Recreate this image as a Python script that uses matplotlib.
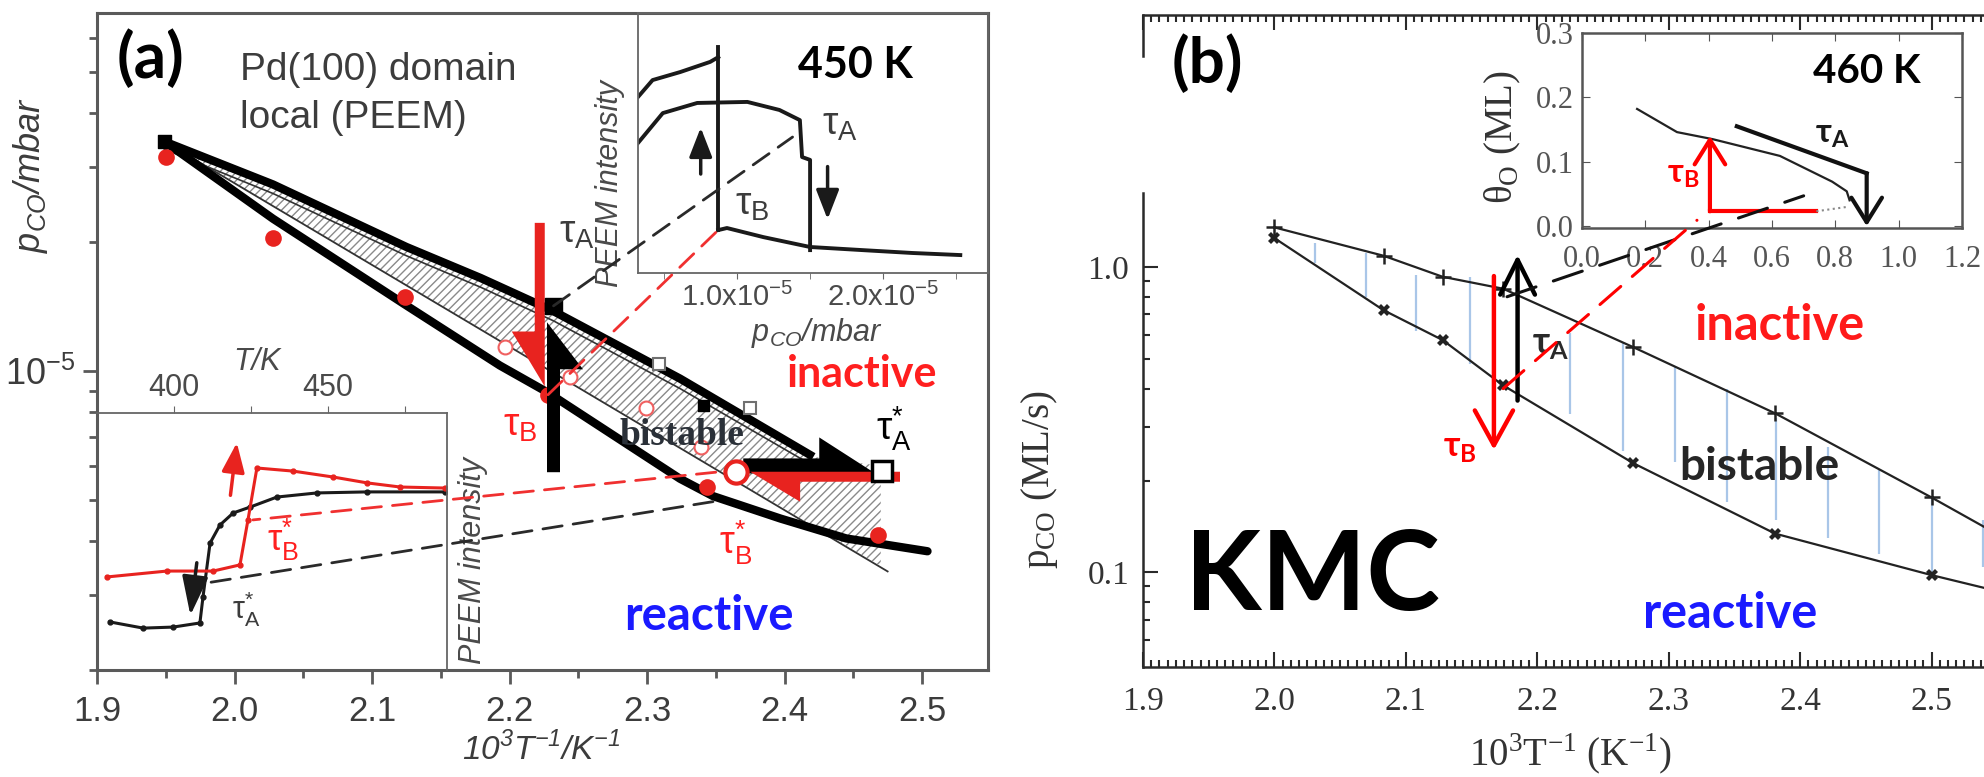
import numpy as np
import matplotlib
matplotlib.use("Agg")
import matplotlib.pyplot as plt
from matplotlib.patches import Polygon, ConnectionPatch
from matplotlib.transforms import IdentityTransform
from matplotlib.ticker import FixedLocator, MultipleLocator, NullFormatter, LogLocator

W, H, DPI = 1984, 777, 100

RED = '#e8231f'
TRED = '#ff1f1f'
BLUE = '#1a1aff'
GRAY = '#3c3c3c'
SANS = ['Liberation Sans', 'DejaVu Sans']
SERIF = ['Liberation Serif', 'DejaVu Serif']
BOLD = ['Lato', 'Open Sans', 'DejaVu Sans']

# ---------------- (a) experiment: PEEM on Pd(100) ----------------
a_upper_x = [1.949, 2.028, 2.125, 2.179, 2.232, 2.324, 2.421]
a_upper_y = [3.44e-5, 2.73e-5, 1.95e-5, 1.65e-5, 1.38e-5, 9.6e-6, 6.3e-6]
a_inner_y = [3.30e-5, 2.60e-5, 1.86e-5, 1.57e-5, 1.31e-5, 9.1e-6, 6.0e-6]
a_lower_x = [1.949, 2.028, 2.124, 2.193, 2.228, 2.324, 2.348, 2.397, 2.445, 2.504]
a_lower_y = [3.44e-5, 2.27e-5, 1.43e-5, 1.03e-5, 8.9e-6, 5.6e-6, 5.1e-6, 4.52e-6, 4.06e-6, 3.79e-6]
a_thin_x = [1.949, 2.475]
a_thin_y = [3.44e-5, 3.4e-6]
a_hatch_x = a_upper_x + [2.470, 2.470, 1.949]
a_hatch_y = a_upper_y + [6.0e-6, 3.5e-6, 3.44e-5]

a_tauB_x = [1.950, 2.028, 2.124, 2.228, 2.344, 2.468]
a_tauB_y = [3.17e-5, 2.05e-5, 1.49e-5, 8.8e-6, 5.36e-6, 4.13e-6]
a_ocirc_x = [2.197, 2.244, 2.299, 2.339]
a_ocirc_y = [1.14e-5, 9.7e-6, 8.2e-6, 6.65e-6]
a_osq_x = [2.309, 2.375]
a_osq_y = [1.04e-5, 8.2e-6]
a_fsq_x = [1.949, 2.232, 2.341]
a_fsq_y = [3.44e-5, 1.42e-5, 8.3e-6]
a_fsq_s = [80, 140, 55]
a_tauAstar = (2.471, 5.85e-6)
a_tauBstar = (2.365, 5.8e-6)

# tail, tip, shaft px, head px, head length px, head side, colour
a_arrows = [
    ((2.222, 2.22e-5), (2.222, 9.2e-6), 10, 23, 55, -1, RED),
    ((2.232, 5.8e-6), (2.232, 1.30e-5), 13, 23, 47, -1, 'black'),
    ((2.370, 6.0e-6), (2.466, 6.0e-6), 15, 21, 56, 1, 'black'),
    ((2.484, 5.66e-6), (2.375, 5.66e-6), 10, 20, 50, 1, RED),
]

# inset: PEEM intensity vs p_CO at 450 K
p_up_x = [0.32e-5, 0.42e-5, 0.61e-5, 0.815e-5, 0.87e-5]
p_up_y = [0.677, 0.742, 0.773, 0.812, 0.83]
p_jump_x = [0.87e-5, 0.87e-5]
p_jump_y = [0.869, 0.165]
p_dome_x = [0.32e-5, 0.49e-5, 0.726e-5, 1.07e-5, 1.29e-5, 1.43e-5, 1.445e-5, 1.5e-5, 1.5e-5]
p_dome_y = [0.50, 0.615, 0.654, 0.658, 0.627, 0.588, 0.446, 0.435, 0.088]
p_low_x = [0.87e-5, 0.93e-5, 1.18e-5, 1.5e-5, 1.86e-5, 2.2e-5, 2.53e-5]
p_low_y = [0.165, 0.173, 0.138, 0.10, 0.088, 0.077, 0.069]

# inset: PEEM intensity vs T
t_black_T = [379.2, 390.0, 399.7, 408.4, 409.4, 411.7, 414.9, 419.2, 424.7, 433.4, 446.4, 462.7, 488.0]
t_black_I = [0.187, 0.163, 0.167, 0.183, 0.284, 0.494, 0.564, 0.611, 0.634, 0.673, 0.689, 0.693, 0.693]
t_red_T = [378.2, 397.7, 412.7, 421.4, 424.0, 426.9, 438.6, 451.6, 462.7, 473.4, 488.0]
t_red_I = [0.362, 0.385, 0.385, 0.409, 0.584, 0.786, 0.774, 0.751, 0.728, 0.712, 0.708]

# ---------------- (b) KMC ----------------
b_x = [2.0, 2.083, 2.128, 2.174, 2.273, 2.381, 2.5, 2.54]
b_upper = [1.35, 1.09, 0.93, 0.85, 0.547, 0.332, 0.176, 0.141]
b_lower = [1.245, 0.723, 0.577, 0.41, 0.228, 0.134, 0.098, 0.089]
b_hatch_x = [2.031, 2.070, 2.108, 2.149, 2.225, 2.265, 2.305, 2.344, 2.382, 2.421, 2.460, 2.500, 2.539]
b_hatch_top = [1.20, 1.11, 0.94, 0.93, 0.61, 0.57, 0.47, 0.40, 0.32, 0.257, 0.216, 0.176, 0.148]
b_hatch_bot = [1.03, 0.80, 0.62, 0.48, 0.33, 0.25, 0.23, 0.17, 0.148, 0.13, 0.115, 0.096, 0.104]
b_minor_y = [0.06, 0.07, 0.08, 0.09, 0.2, 0.3, 0.4, 0.5, 0.6, 0.7, 0.8, 0.9]

# inset: theta_O at 460 K
bi_thin_x = [0.174, 0.30, 0.413, 0.625, 0.79, 0.836, 0.845]
bi_thin_y = [0.182, 0.146, 0.135, 0.109, 0.069, 0.054, 0.040]
bi_tauA_x = [0.489, 0.899]
bi_tauA_y = [0.155, 0.082]
bi_red_x = [0.404, 0.74]
bi_red_y = [0.023, 0.023]
bi_dot_x = [0.74, 0.84]
bi_dot_y = [0.023, 0.030]


def box(x0, y0, x1, y1):
    return [x0 / W, 1 - y1 / H, (x1 - x0) / W, (y1 - y0) / H]


def half_arrow(ax, tail, tip, w, hw, hl, side, color, z=6):
    T = ax.transData
    p0 = T.transform(tail)
    p1 = T.transform(tip)
    u = (p1 - p0) / np.hypot(*(p1 - p0))
    n = np.array([-u[1], u[0]]) * side
    verts = [p0 - n * w / 2, p1 - n * w / 2, p1 - u * hl + n * (w / 2 + hw),
             p1 - u * hl + n * w / 2, p0 + n * w / 2]
    ax.add_patch(Polygon(verts, closed=True, transform=IdentityTransform(),
                         fc=color, ec='none', zorder=z, clip_on=False))


def connect(fig, axA, xyA, axB, xyB, color, lw=2.0, dash=(7, 4)):
    con = ConnectionPatch(xyA=xyA, xyB=xyB, coordsA=axA.transData, coordsB=axB.transData,
                          color=color, lw=lw, linestyle=(0, dash), zorder=10)
    fig.add_artist(con)


plt.rcParams['font.family'] = SANS
fig = plt.figure(figsize=(W / DPI, H / DPI), dpi=DPI)

ax_a = fig.add_axes(box(97, 13, 988, 670))
ins_p = fig.add_axes(box(638, 13, 988, 273))
ins_t = fig.add_axes(box(97, 413, 447, 670))
ax_b = fig.add_axes(box(1143, 15, 2063, 667))
ins_b = fig.add_axes(box(1582, 33, 1962, 228))
for ax in (ins_p, ins_t, ins_b):
    ax.set_zorder(2)

# ----- panel (a) main -----
ax_a.set_yscale('log')
ax_a.set_xlim(1.9, 2.548)
ax_a.set_ylim(2.0e-6, 6.87e-5)
for s in ax_a.spines.values():
    s.set_color('#5a5a5a')
    s.set_linewidth(2.2)
ax_a.set_xticks(np.round(np.arange(1.9, 2.51, 0.1), 1),
                labels=['%.1f' % v for v in np.arange(1.9, 2.51, 0.1)])
ax_a.xaxis.set_minor_locator(MultipleLocator(0.05))
ax_a.set_yticks([1e-5], labels=['10$^\\mathregular{-5}$'])
ax_a.yaxis.set_minor_locator(LogLocator(base=10, subs=np.arange(2, 10), numticks=20))
ax_a.yaxis.set_minor_formatter(NullFormatter())
ax_a.tick_params(which='both', direction='out', color='#5a5a5a', width=2, labelcolor=GRAY)
ax_a.tick_params(which='major', length=10)
ax_a.tick_params(which='minor', length=6)
ax_a.tick_params(axis='x', labelsize=25, pad=8)
ax_a.tick_params(axis='y', labelsize=26, pad=6)
ax_a.set_xlabel('10$^\\mathregular{3}$T$^\\mathregular{-1}$/K$^\\mathregular{-1}$',
                fontsize=24, style='italic', color=GRAY)
ax_a.xaxis.set_label_coords(0.498, -0.094)
ax_a.set_ylabel('p$_\\mathregular{CO}$/mbar', fontsize=26, style='italic', color=GRAY)
ax_a.yaxis.set_label_coords(-0.053, 0.753)

ax_a.fill(a_hatch_x, a_hatch_y, facecolor='none', edgecolor='#8a8a8a', lw=0,
          hatch='////', zorder=1)
ax_a.plot(a_thin_x, a_thin_y, color='#333333', lw=1.3, zorder=2)
ax_a.plot(a_upper_x, a_inner_y, color='#333333', lw=1.2, zorder=2)
ax_a.plot(a_upper_x, a_upper_y, color='black', lw=6, solid_capstyle='butt', zorder=3)
ax_a.plot(a_lower_x, a_lower_y, color='black', lw=6, solid_capstyle='round', zorder=3)
ax_a.plot(a_tauB_x, a_tauB_y, 'o', color=RED, ms=12, mec='none', zorder=4)
ax_a.plot(a_ocirc_x, a_ocirc_y, 'o', mfc='white', mec='#f06060', ms=10, mew=1.5, zorder=4)
ax_a.plot(a_osq_x, a_osq_y, 's', mfc='white', mec='#707070', ms=9, mew=1.5, zorder=4)
ax_a.scatter(a_fsq_x, a_fsq_y, s=a_fsq_s, marker='s', color='black', zorder=7)

for tail, tip, w, hw, hl, side, c in a_arrows:
    half_arrow(ax_a, tail, tip, w, hw, hl, side, c)
ax_a.plot(*a_tauBstar, 'o', mfc='white', mec=RED, ms=16, mew=3, zorder=8)
ax_a.plot(*a_tauAstar, 's', mfc='white', mec='black', ms=15, mew=2.5, zorder=8)

fa = dict(transform=ax_a.transAxes, zorder=9)
ax_a.text(0.0606, 0.901, '(a)', fontsize=46, fontweight='bold', family=BOLD,
          ha='center', va='baseline', **fa)
ax_a.text(0.1605, 0.898, 'Pd(100) domain', fontsize=28, color=GRAY, va='baseline', **fa)
ax_a.text(0.1605, 0.825, 'local (PEEM)', fontsize=28, color=GRAY, va='baseline', **fa)
ax_a.text(0.539, 0.665, 'τ$_\\mathregular{A}$', fontsize=28, color=GRAY, ha='center', va='center', **fa)
ax_a.text(0.475, 0.371, 'τ$_\\mathregular{B}$', fontsize=28, color=TRED, ha='center', va='center', **fa)
ax_a.text(0.657, 0.342, 'bistable', fontsize=27, fontweight='bold', family=SERIF,
          color='#2a3038', ha='center', va='baseline', **fa)
ax_a.text(0.859, 0.431, 'inactive', fontsize=31, fontweight='bold', family=BOLD,
          color=TRED, ha='center', va='baseline', **fa)
ax_a.text(0.8945, 0.3668, 'τ$_\\mathregular{A}^\\mathregular{*}$', fontsize=28, color='black',
          ha='center', va='center', **fa)
ax_a.text(0.717, 0.193, 'τ$_\\mathregular{B}^\\mathregular{*}$', fontsize=27, color=TRED,
          ha='center', va='center', **fa)
ax_a.text(0.687, 0.0609, 'reactive', fontsize=34, fontweight='bold', family=BOLD,
          color=BLUE, ha='center', va='baseline', **fa)

# ----- inset 450 K -----
ins_p.set_facecolor('none')
ins_p.set_xlim(0.32e-5, 2.72e-5)
ins_p.set_ylim(0, 1)
for s in ins_p.spines.values():
    s.set_color('#666666')
    s.set_linewidth(1.3)
ins_p.set_xticks([1e-5, 2e-5], labels=['1.0x10$^\\mathregular{-5}$', '2.0x10$^\\mathregular{-5}$'])
ins_p.xaxis.set_minor_locator(FixedLocator([0.5e-5, 1.5e-5, 2.5e-5]))
ins_p.set_yticks([])
ins_p.tick_params(which='both', direction='out', length=4, color='#666666',
                  labelsize=21, labelcolor='#4a4a4a', pad=3)
ins_p.set_xlabel('p$_\\mathregular{CO}$/mbar', fontsize=22, style='italic', color='#4a4a4a')
ins_p.xaxis.set_label_coords(0.511, -0.165)
ins_p.set_ylabel('PEEM intensity', fontsize=22, style='italic', color='#4a4a4a')
ins_p.yaxis.set_label_coords(-0.037, 0.346)
for xs, ys in ((p_up_x, p_up_y), (p_jump_x, p_jump_y), (p_dome_x, p_dome_y), (p_low_x, p_low_y)):
    ins_p.plot(xs, ys, color='#1a1a1a', lw=2.8)
ins_p.annotate('', xy=(0.75e-5, 0.57), xytext=(0.75e-5, 0.37),
               arrowprops=dict(arrowstyle='-|>,head_length=0.9,head_width=0.35',
                               color='#1a1a1a', lw=2.5, mutation_scale=20))
ins_p.annotate('', xy=(1.62e-5, 0.196), xytext=(1.62e-5, 0.42),
               arrowprops=dict(arrowstyle='-|>,head_length=0.9,head_width=0.35',
                               color='#1a1a1a', lw=2.5, mutation_scale=20))
ins_p.text(1.81e-5, 0.75, '450 K', fontsize=31, fontweight='bold', family=BOLD,
           ha='center', va='baseline')
ins_p.text(1.705e-5, 0.569, 'τ$_\\mathregular{A}$', fontsize=28, color=GRAY, ha='center', va='center')
ins_p.text(1.10e-5, 0.262, 'τ$_\\mathregular{B}$', fontsize=28, color=GRAY, ha='center', va='center')

# ----- inset temperature ramp -----
ins_t.set_facecolor('none')
ins_t.set_xlim(375, 488.6)
ins_t.set_ylim(0, 1)
ins_t.spines['left'].set_visible(False)
ins_t.spines['bottom'].set_visible(False)
for k in ('top', 'right'):
    ins_t.spines[k].set_color('#666666')
    ins_t.spines[k].set_linewidth(1.3)
ins_t.xaxis.tick_top()
ins_t.set_xticks([400, 425, 450, 475], labels=['400', '', '450', ''])
ins_t.set_yticks([])
ins_t.tick_params(direction='out', length=5, color='#666666', labelsize=22,
                  labelcolor='#4a4a4a', pad=2)
ins_t.text(0.457, 1.198, 'T/K', transform=ins_t.transAxes, fontsize=22, style='italic',
           color='#4a4a4a', ha='center', va='center')
ins_t.text(1.074, 0.428, 'PEEM intensity', transform=ins_t.transAxes, fontsize=22,
           style='italic', color='#4a4a4a', rotation=90, ha='center', va='center')
ins_t.plot(t_black_T, t_black_I, '-o', color='#1a1a1a', lw=2.2, ms=3.5)
ins_t.plot(t_red_T, t_red_I, '-o', color=RED, lw=2.2, ms=3.5)
ins_t.annotate('', xy=(420.5, 0.895), xytext=(418.2, 0.669),
               arrowprops=dict(arrowstyle='-|>,head_length=0.9,head_width=0.35',
                               color=RED, lw=2.5, mutation_scale=20))
ins_t.annotate('', xy=(405.2, 0.202), xytext=(407.5, 0.428),
               arrowprops=dict(arrowstyle='-|>,head_length=1.2,head_width=0.4',
                               color='#1a1a1a', lw=2.5, mutation_scale=20))
ins_t.text(435.4, 0.506, 'τ$_\\mathregular{B}^\\mathregular{*}$', fontsize=26, color=TRED,
           ha='center', va='center')
ins_t.text(423.4, 0.237, 'τ$_\\mathregular{A}^\\mathregular{*}$', fontsize=22, color=GRAY,
           ha='center', va='center')

connect(fig, ax_a, (2.232, 1.42e-5), ins_p, (1.38e-5, 0.523), '#2a2a2a')
connect(fig, ax_a, (2.228, 8.8e-6), ins_p, (0.87e-5, 0.165), '#f03030')
connect(fig, ax_a, (2.348, 4.95e-6), ins_t, (410.7, 0.339), '#2a2a2a')
connect(fig, ax_a, (2.35, 5.8e-6), ins_t, (425.6, 0.584), '#f03030')

# ----- panel (b) main -----
ax_b.set_yscale('log')
ax_b.set_xlim(1.9, 2.6)
ax_b.set_ylim(0.049, 6.7)
ax_b.spines['right'].set_visible(False)
for k in ('left', 'top', 'bottom'):
    ax_b.spines[k].set_color('#2a2a2a')
    ax_b.spines[k].set_linewidth(1.8)
ax_b.spines['left'].set_bounds(0.049, 1.75)
ax_b.plot([1.9, 1.9], [4.9, 6.7], color='#2a2a2a', lw=1.8, clip_on=False, zorder=3)
bx = np.round(np.arange(1.9, 2.55, 0.1), 1)
ax_b.set_xticks(bx, labels=['%.1f' % v for v in bx], family=SERIF, fontsize=24)
ax_b.xaxis.set_minor_locator(MultipleLocator(0.1 / 16))
ax_b.set_yticks([0.1, 1.0], labels=['0.1', '1.0'], family=SERIF, fontsize=24)
ax_b.yaxis.set_minor_locator(FixedLocator(b_minor_y))
ax_b.yaxis.set_minor_formatter(NullFormatter())
ax_b.tick_params(which='both', direction='in', top=True, color='#2a2a2a', width=1.5,
                 labelcolor='#333333')
ax_b.tick_params(which='major', length=11)
ax_b.tick_params(which='minor', length=5)
ax_b.tick_params(axis='x', pad=14)
ax_b.tick_params(axis='y', pad=10)
ax_b.set_xlabel('10$^\\mathregular{3}$T$^\\mathregular{-1}$ (K$^\\mathregular{-1}$)',
                family=SERIF, fontsize=28, color='#333333')
ax_b.xaxis.set_label_coords(0.464, -0.099)
ax_b.set_ylabel('p$_\\mathregular{CO}$ (ML/s)', family=SERIF, fontsize=28, color='#333333')
ax_b.yaxis.set_label_coords(-0.090, 0.287)

ax_b.vlines(b_hatch_x, b_hatch_bot, b_hatch_top, color='#a9c6e8', lw=1.6, zorder=1)
ax_b.plot(b_x, b_upper, '-', color='#222222', lw=1.6, marker='+', ms=11, mew=1.8,
          markevery=list(range(7)), zorder=3)
ax_b.plot(b_x, b_lower, '-', color='#222222', lw=1.6, marker='X', ms=8, mew=0,
          markevery=list(range(7)), zorder=3)
ax_b.annotate('', xy=(2.167, 0.247), xytext=(2.167, 0.955),
              arrowprops=dict(arrowstyle='->,head_length=1.0,head_width=0.55',
                              color='#ff0000', lw=3.2, mutation_scale=25), zorder=5)
ax_b.annotate('', xy=(2.185, 1.12), xytext=(2.185, 0.358),
              arrowprops=dict(arrowstyle='->,head_length=1.0,head_width=0.5',
                              color='black', lw=3.2, mutation_scale=25), zorder=5)

fb = dict(transform=ax_b.transAxes, zorder=9)
ax_b.text(0.0696, 0.896, '(b)', fontsize=46, fontweight='bold', family=BOLD,
          ha='center', va='baseline', **fb)
ax_b.text(0.1837, 0.0874, 'KMC', fontsize=80, fontweight='bold', family=BOLD,
          ha='center', va='baseline', **fb)
ax_b.text(0.692, 0.5015, 'inactive', fontsize=35, fontweight='bold', family=BOLD,
          color='#ff1a1a', ha='center', va='baseline', **fb)
ax_b.text(0.6696, 0.2868, 'bistable', fontsize=33, fontweight='bold', family=BOLD,
          color='#262626', ha='center', va='baseline', **fb)
ax_b.text(0.638, 0.0598, 'reactive', fontsize=35, fontweight='bold', family=BOLD,
          color=BLUE, ha='center', va='baseline', **fb)
ax_b.text(0.4435, 0.494, 'τ$_\\mathregular{A}$', fontsize=26, fontweight='bold', family=BOLD,
          color='#2a2a2a', ha='center', va='center', **fb)
ax_b.text(0.3446, 0.336, 'τ$_\\mathregular{B}$', fontsize=25, fontweight='bold', family=BOLD,
          color='#ff0000', ha='center', va='center', **fb)

# ----- inset 460 K -----
ins_b.set_facecolor('white')
ins_b.set_xlim(0, 1.2)
ins_b.set_ylim(-0.003, 0.3)
for s in ins_b.spines.values():
    s.set_color('#555555')
    s.set_linewidth(1.8)
ins_b.set_xticks(np.round(np.arange(0, 1.21, 0.2), 1),
                 labels=['%.1f' % v for v in np.arange(0, 1.21, 0.2)], family=SERIF, fontsize=22)
ins_b.set_yticks([0.0, 0.1, 0.2, 0.3], labels=['0.0', '0.1', '0.2', '0.3'],
                 family=SERIF, fontsize=22)
ins_b.tick_params(direction='in', top=True, right=True, length=6, color='#555555',
                  labelcolor='#555555')
ins_b.tick_params(axis='x', pad=12)
ins_b.tick_params(axis='y', pad=6)
ins_b.set_ylabel('θ$_\\mathregular{O}$ (ML)', family=SERIF, fontsize=28, color='#333333')
ins_b.yaxis.set_label_coords(-0.155, 0.467)
ins_b.plot(bi_thin_x, bi_thin_y, color='#222222', lw=1.6)
ins_b.plot(bi_tauA_x, bi_tauA_y, color='#111111', lw=3)
ins_b.plot(bi_red_x, bi_red_y, color='#ff0000', lw=3)
ins_b.plot(bi_dot_x, bi_dot_y, ':', color='#888888', lw=1.5)
ins_b.annotate('', xy=(0.899, 0.0), xytext=(0.899, 0.082),
               arrowprops=dict(arrowstyle='->,head_length=0.8,head_width=0.5',
                               color='#111111', lw=3, mutation_scale=22, shrinkA=0, shrinkB=0))
ins_b.annotate('', xy=(0.404, 0.14), xytext=(0.404, 0.023),
               arrowprops=dict(arrowstyle='->,head_length=0.8,head_width=0.5',
                               color='#ff0000', lw=3, mutation_scale=22, shrinkA=0, shrinkB=0))
ins_b.text(0.9, 0.223, '460 K', fontsize=29, fontweight='bold', family=BOLD,
           ha='center', va='baseline')
ins_b.text(0.79, 0.14, 'τ$_\\mathregular{A}$', fontsize=24, fontweight='bold', family=BOLD,
           color='#1a1a1a', ha='center', va='center')
ins_b.text(0.32, 0.078, 'τ$_\\mathregular{B}$', fontsize=24, fontweight='bold', family=BOLD,
           color='#ff0000', ha='center', va='center')

connect(fig, ax_b, (2.177, 0.80), ins_b, (0.70, 0.047), '#111111', lw=2.2, dash=(10, 6))
connect(fig, ax_b, (2.174, 0.40), ins_b, (0.363, 0.009), '#ff0000', lw=2.2, dash=(9, 5))

fig.savefig('out.png', dpi=DPI, facecolor='white')
